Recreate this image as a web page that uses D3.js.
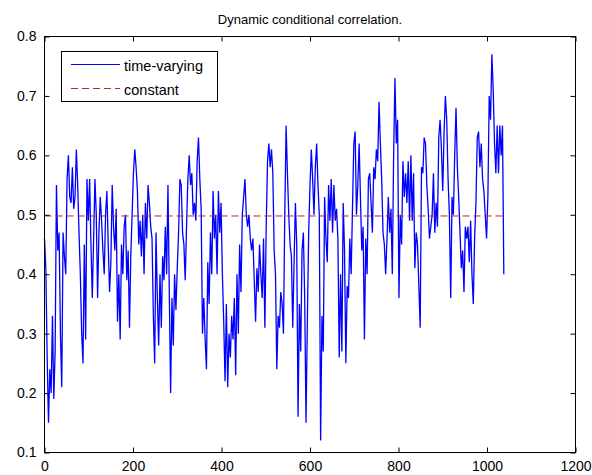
<!DOCTYPE html>
<html>
<head>
<meta charset="utf-8">
<script src="https://cdn.jsdelivr.net/npm/d3@7"></script>
<style>
  body { margin: 0; background: #fff; }
  svg text { font-family: "Liberation Sans", Arial, Helvetica, sans-serif; fill: #000; }
</style>
</head>
<body>
<svg id="chart" width="592" height="475"></svg>
<script>
// Estimated DCC correlation, one value every `sampleStep` observations.
const sampleStep = 3;
const correlation = [
  0.46, 0.41, 0.26, 0.15, 0.24, 0.20, 0.33, 0.19, 0.27, 0.55,
  0.44, 0.47, 0.30, 0.21, 0.47, 0.43, 0.40, 0.56, 0.60, 0.53,
  0.52, 0.58, 0.51, 0.53, 0.61, 0.55, 0.47, 0.40, 0.30, 0.25,
  0.45, 0.29, 0.56, 0.49, 0.56, 0.45, 0.36, 0.46, 0.56, 0.50,
  0.36, 0.47, 0.53, 0.49, 0.44, 0.40, 0.50, 0.54, 0.45, 0.37,
  0.42, 0.55, 0.48, 0.44, 0.51, 0.32, 0.40, 0.29, 0.45, 0.40,
  0.48, 0.50, 0.39, 0.44, 0.31, 0.43, 0.50, 0.57, 0.61, 0.58,
  0.54, 0.45, 0.49, 0.43, 0.50, 0.40, 0.52, 0.46, 0.55, 0.52,
  0.48, 0.46, 0.33, 0.25, 0.47, 0.36, 0.28, 0.40, 0.31, 0.43,
  0.39, 0.48, 0.40, 0.55, 0.37, 0.20, 0.36, 0.28, 0.40, 0.34,
  0.41, 0.47, 0.56, 0.55, 0.47, 0.45, 0.39, 0.48, 0.56, 0.60,
  0.55, 0.57, 0.50, 0.52, 0.49, 0.59, 0.63, 0.56, 0.51, 0.30,
  0.36, 0.29, 0.24, 0.42, 0.35, 0.47, 0.40, 0.54, 0.46, 0.50,
  0.40, 0.54, 0.47, 0.52, 0.40, 0.32, 0.22, 0.35, 0.21, 0.30,
  0.26, 0.33, 0.29, 0.36, 0.23, 0.40, 0.30, 0.45, 0.37, 0.50,
  0.53, 0.56, 0.50, 0.48, 0.50, 0.46, 0.44, 0.46, 0.39, 0.32,
  0.41, 0.37, 0.45, 0.40, 0.36, 0.46, 0.31, 0.48, 0.59, 0.62,
  0.58, 0.61, 0.57, 0.44, 0.40, 0.24, 0.33, 0.31, 0.37, 0.35,
  0.30, 0.50, 0.65, 0.57, 0.50, 0.45, 0.43, 0.31, 0.42, 0.52,
  0.45, 0.16, 0.35, 0.27, 0.44, 0.47, 0.36, 0.15, 0.32, 0.47,
  0.55, 0.61, 0.56, 0.50, 0.58, 0.62, 0.55, 0.50, 0.12, 0.33,
  0.27, 0.53, 0.46, 0.42, 0.55, 0.49, 0.56, 0.47, 0.55, 0.49,
  0.51, 0.46, 0.26, 0.40, 0.27, 0.52, 0.44, 0.25, 0.38, 0.36,
  0.46, 0.40, 0.51, 0.62, 0.64, 0.50, 0.55, 0.62, 0.53, 0.44,
  0.48, 0.29, 0.46, 0.40, 0.56, 0.57, 0.52, 0.47, 0.58, 0.56,
  0.61, 0.59, 0.69, 0.62, 0.56, 0.47, 0.45, 0.40, 0.46, 0.53,
  0.47, 0.51, 0.40, 0.60, 0.73, 0.62, 0.66, 0.36, 0.50, 0.45,
  0.59, 0.53, 0.57, 0.52, 0.59, 0.49, 0.60, 0.49, 0.57, 0.41,
  0.47, 0.45, 0.38, 0.31, 0.58, 0.57, 0.63, 0.62, 0.55, 0.51,
  0.46, 0.48, 0.50, 0.57, 0.47, 0.52, 0.48, 0.63, 0.66, 0.61,
  0.54, 0.64, 0.70, 0.66, 0.56, 0.50, 0.36, 0.53, 0.50, 0.60,
  0.68, 0.58, 0.53, 0.47, 0.41, 0.44, 0.37, 0.48, 0.46, 0.48,
  0.42, 0.49, 0.40, 0.35, 0.46, 0.52, 0.63, 0.64, 0.58, 0.62,
  0.56, 0.54, 0.50, 0.46, 0.53, 0.70, 0.66, 0.77, 0.71, 0.62,
  0.57, 0.65, 0.57, 0.65, 0.60, 0.65, 0.40
];
// Constant conditional correlation estimate.
const constantCorrelation = 0.498;

const xTicks = [0, 200, 400, 600, 800, 1000, 1200];
const yTicks = [0.1, 0.2, 0.3, 0.4, 0.5, 0.6, 0.7, 0.8];
const legendLabels = ["time-varying", "constant"];
const titleText = "Dynamic conditional correlation.";

const seriesColor = "#0000ff";
const constantColor = "#b8281c";

const svg = d3.select("#chart");
const plot = { left: 44.5, right: 575.5, top: 36.5, bottom: 452.5 };

const x = d3.scaleLinear().domain([0, 1200]).range([plot.left, plot.right]);
const y = d3.scaleLinear().domain([0.1, 0.8]).range([plot.bottom, plot.top]);

const points = correlation.map((v, i) => [i * sampleStep, v]);
const lastT = (correlation.length - 1) * sampleStep;

// Time-varying correlation
svg.append("path")
  .datum(points)
  .attr("fill", "none")
  .attr("stroke", seriesColor)
  .attr("stroke-width", 1.3)
  .attr("stroke-linejoin", "miter")
  .attr("d", d3.line().x(d => x(d[0])).y(d => y(d[1])));

// Constant correlation
svg.append("line")
  .attr("x1", x(0)).attr("x2", x(lastT))
  .attr("y1", y(constantCorrelation)).attr("y2", y(constantCorrelation))
  .attr("stroke", constantColor)
  .attr("stroke-width", 1)
  .attr("stroke-dasharray", "7,4");

// Axes with inward ticks on all four sides
const tickLen = 5;
const fontSize = "14px";

const axisBottomG = svg.append("g")
  .attr("transform", `translate(0,${plot.bottom})`)
  .call(d3.axisBottom(x).tickValues(xTicks).tickFormat(d3.format("d"))
    .tickSizeInner(-tickLen).tickSizeOuter(0).tickPadding(8.5));
const axisTopG = svg.append("g")
  .attr("transform", `translate(0,${plot.top})`)
  .call(d3.axisTop(x).tickValues(xTicks).tickFormat("")
    .tickSizeInner(-tickLen).tickSizeOuter(0));
const axisLeftG = svg.append("g")
  .attr("transform", `translate(${plot.left},0)`)
  .call(d3.axisLeft(y).tickValues(yTicks).tickFormat(d3.format(".1f"))
    .tickSizeInner(-tickLen).tickSizeOuter(0).tickPadding(8));
const axisRightG = svg.append("g")
  .attr("transform", `translate(${plot.right},0)`)
  .call(d3.axisRight(y).tickValues(yTicks).tickFormat("")
    .tickSizeInner(-tickLen).tickSizeOuter(0));

[axisBottomG, axisTopG, axisLeftG, axisRightG].forEach(g => {
  g.select(".domain").remove();
  g.selectAll("line").attr("stroke", "#000");
  g.selectAll("text").attr("font-size", fontSize).attr("fill", "#000")
    .style("font-family", "'Liberation Sans', Arial, sans-serif");
});

// Axes box
svg.append("rect")
  .attr("x", plot.left).attr("y", plot.top)
  .attr("width", plot.right - plot.left).attr("height", plot.bottom - plot.top)
  .attr("fill", "none").attr("stroke", "#000").attr("stroke-width", 1);

// Title
svg.append("text")
  .attr("x", (plot.left + plot.right) / 2)
  .attr("y", 24)
  .attr("text-anchor", "middle")
  .attr("font-size", "13px")
  .text(titleText);

// Legend
const legend = svg.append("g");
legend.append("rect")
  .attr("x", 61.5).attr("y", 51.5).attr("width", 156).attr("height", 50)
  .attr("fill", "#fff").attr("stroke", "#000").attr("stroke-width", 1);
const rows = [
  { label: legendLabels[0], color: seriesColor, dash: null, yy: 64.5 },
  { label: legendLabels[1], color: constantColor, dash: "7,4", yy: 88.5 }
];
rows.forEach(r => {
  legend.append("line")
    .attr("x1", 71).attr("x2", 120).attr("y1", r.yy).attr("y2", r.yy)
    .attr("stroke", r.color).attr("stroke-width", 1)
    .attr("stroke-dasharray", r.dash);
  legend.append("text")
    .attr("x", 124).attr("y", r.yy + 1)
    .attr("dominant-baseline", "central")
    .attr("font-size", "14.5px")
    .text(r.label);
});
</script>
</body>
</html>
